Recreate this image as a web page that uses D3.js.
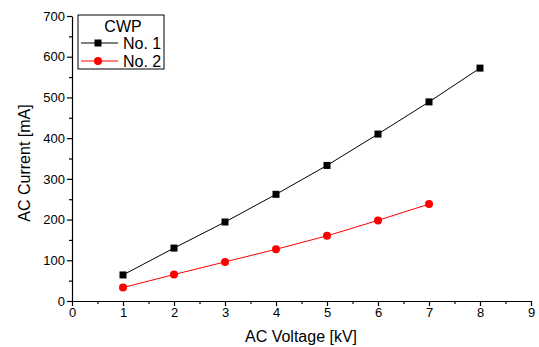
<!DOCTYPE html>
<html>
<head>
<meta charset="utf-8">
<script src="https://cdn.jsdelivr.net/npm/d3@7"></script>
<style>
  body { margin: 0; background: #fff; }
  svg text { font-family: "Liberation Sans", Arial, sans-serif; }
</style>
</head>
<body>
<div id="chart"></div>
<script>
// data
const voltage1 = [1, 2, 3, 4, 5, 6, 7, 8];
const current1 = [64, 130, 194, 262, 333, 410, 489, 572];
const voltage2 = [1, 2, 3, 4, 5, 6, 7];
const current2 = [33, 65, 96, 127, 160, 198, 238];
const seriesNames = ["No. 1", "No. 2"];
const legendTitle = "CWP";
const xTicks = [0, 1, 2, 3, 4, 5, 6, 7, 8, 9];
const yTicks = [0, 100, 200, 300, 400, 500, 600, 700];

const W = 539, H = 347;
const margin = {top: 16, right: 8, bottom: 46, left: 72};

const svg = d3.select("#chart").append("svg")
    .attr("width", W)
    .attr("height", H);

const x = d3.scaleLinear().domain([0, 9]).range([margin.left, 531]);
const y = d3.scaleLinear().domain([0, 700]).range([301, margin.top]);

// minor ticks
const xMinor = d3.range(0.5, 9, 1);
const yMinor = d3.range(50, 700, 100);

svg.append("g")
    .attr("transform", "translate(0,301)")
    .call(d3.axisBottom(x).tickValues(xMinor).tickSize(3).tickFormat(""))
    .call(g => g.select(".domain").remove());
svg.append("g")
    .attr("transform", "translate(" + margin.left + ",0)")
    .call(d3.axisLeft(y).tickValues(yMinor).tickSize(3).tickFormat(""))
    .call(g => g.select(".domain").remove());

// main axes
svg.append("g")
    .attr("transform", "translate(0,301)")
    .call(d3.axisBottom(x).tickValues(xTicks).tickSize(5).tickSizeOuter(0).tickPadding(2));
svg.append("g")
    .attr("transform", "translate(" + margin.left + ",0)")
    .call(d3.axisLeft(y).tickValues(yTicks).tickSize(5).tickSizeOuter(0).tickPadding(2));

svg.selectAll(".tick text").style("font-size", "13px").attr("fill", "#000");
svg.selectAll(".domain, .tick line").attr("stroke", "#000").attr("stroke-width", 1.2);

// axis titles
svg.append("text")
    .attr("x", 301).attr("y", 342)
    .attr("text-anchor", "middle")
    .style("font-size", "16px")
    .text("AC Voltage [kV]");

svg.append("text")
    .attr("transform", "translate(30,163) rotate(-90)")
    .attr("text-anchor", "middle")
    .style("font-size", "16px")
    .text("AC Current [mA]");

const line = d3.line()
    .x(d => x(d[0]))
    .y(d => y(d[1]));

const pts1 = voltage1.map((v, i) => [v, current1[i]]);
const pts2 = voltage2.map((v, i) => [v, current2[i]]);

svg.append("path")
    .attr("d", line(pts1))
    .attr("fill", "none")
    .attr("stroke", "#000")
    .attr("stroke-width", 1);

svg.append("path")
    .attr("d", line(pts2))
    .attr("fill", "none")
    .attr("stroke", "#ff0000")
    .attr("stroke-width", 1);

svg.selectAll(".sq")
    .data(pts1)
    .enter().append("rect")
    .attr("class", "sq")
    .attr("x", d => x(d[0]) - 3.5)
    .attr("y", d => y(d[1]) - 3.5)
    .attr("width", 7)
    .attr("height", 7)
    .attr("fill", "#000");

svg.selectAll(".dot")
    .data(pts2)
    .enter().append("circle")
    .attr("class", "dot")
    .attr("cx", d => x(d[0]))
    .attr("cy", d => y(d[1]))
    .attr("r", 4)
    .attr("fill", "#ff0000");

// legend
const legend = svg.append("g").attr("class", "legend");
legend.append("rect")
    .attr("x", 78).attr("y", 15)
    .attr("width", 86).attr("height", 54)
    .attr("fill", "#fff")
    .attr("stroke", "#000")
    .attr("stroke-width", 1);
legend.append("text")
    .attr("x", 123).attr("y", 32)
    .attr("text-anchor", "middle")
    .style("font-size", "16px")
    .text(legendTitle);

const colors = ["#000", "#ff0000"];
seriesNames.forEach((name, i) => {
    const ly = 43 + i * 18;
    legend.append("line")
        .attr("x1", 81).attr("x2", 118)
        .attr("y1", ly).attr("y2", ly)
        .attr("stroke", colors[i]).attr("stroke-width", 1);
    if (i === 0) {
        legend.append("rect")
            .attr("x", 98 - 3.5).attr("y", ly - 3.5)
            .attr("width", 7).attr("height", 7)
            .attr("fill", colors[i]);
    } else {
        legend.append("circle")
            .attr("cx", 98).attr("cy", ly).attr("r", 4)
            .attr("fill", colors[i]);
    }
    legend.append("text")
        .attr("x", 123).attr("y", ly + 6)
        .style("font-size", "16px")
        .text(name);
});
</script>
</body>
</html>
